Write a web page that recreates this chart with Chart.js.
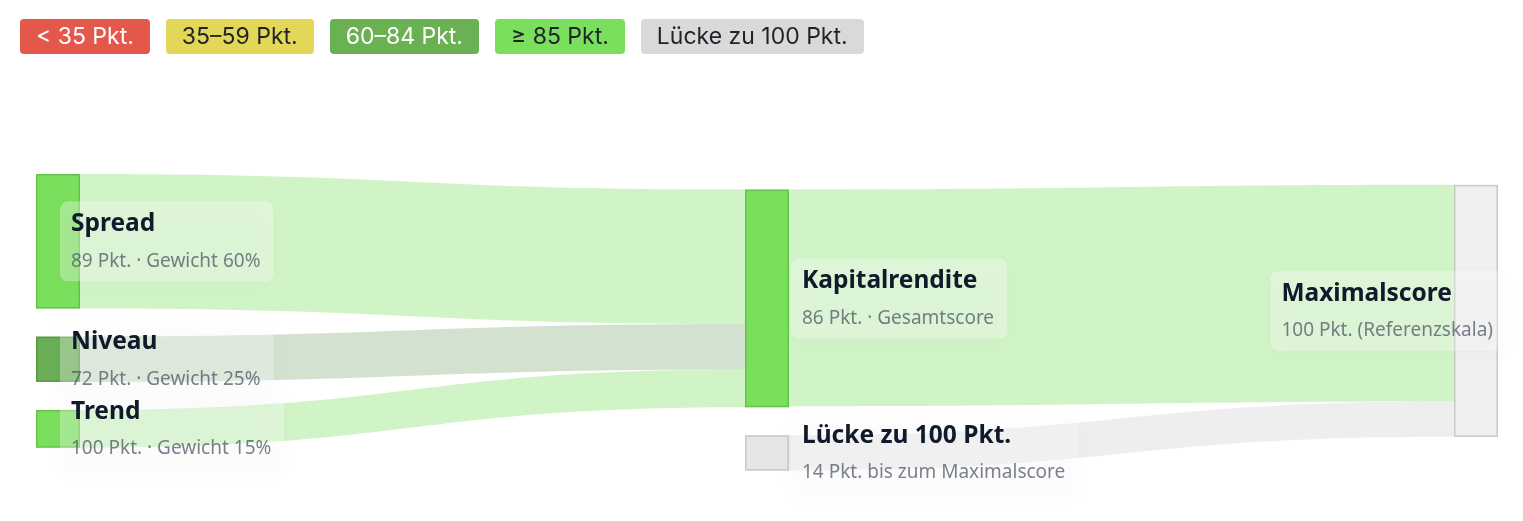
<!DOCTYPE html>
<html><head><meta charset="utf-8">
<script src="https://cdn.jsdelivr.net/npm/chart.js@4.4.1/dist/chart.umd.min.js"></script>
<style>
html,body{margin:0;padding:0;background:#fff;}
#wrap{position:relative;width:1523px;height:521px;overflow:hidden;}
#legend{position:absolute;left:20px;top:19px;display:flex;gap:16px;z-index:2}
.badge{height:35px;line-height:35px;padding:0 16px;border-radius:4px;font-family:Inter,sans-serif;font-size:23px;white-space:nowrap;}
canvas{position:absolute;left:0;top:0}
</style></head>
<body><div id="wrap"><div id="legend"></div><canvas id="c" width="1523" height="521"></canvas></div>
<script>
// ---- data ----
const legendLabels = ['< 35 Pkt.', '35–59 Pkt.', '60–84 Pkt.', '≥ 85 Pkt.', 'Lücke zu 100 Pkt.'];
const nodeNames = ['Spread', 'Niveau', 'Trend', 'Kapitalrendite', 'Lücke zu 100 Pkt.', 'Maximalscore'];
const nodeSubtitles = ['89 Pkt. · Gewicht 60%', '72 Pkt. · Gewicht 25%', '100 Pkt. · Gewicht 15%', '86 Pkt. · Gesamtscore', '14 Pkt. bis zum Maximalscore', '100 Pkt. (Referenzskala)'];
const nodeColumns = [0, 0, 0, 1, 1, 2];
const linkFrom = ['Spread', 'Niveau', 'Trend', 'Kapitalrendite', 'Lücke zu 100 Pkt.'];
const linkTo = ['Kapitalrendite', 'Kapitalrendite', 'Kapitalrendite', 'Maximalscore', 'Maximalscore'];
const linkValues = [53.4, 18, 15, 86, 14];

// ---- styles ----
const legendColors = ['#e4574b', '#e2d756', '#6ab154', '#7bdf5e', '#d9d9d9'];
const legendTextColors = ['#ffffff', '#1f2328', '#ffffff', '#1f2328', '#1f2328'];
const nodeFill = ['#7bdf5e', '#6aaf55', '#7bdf5e', '#7bdf5e', '#e6e6e6', '#f0f0f0'];
const nodeStroke = ['rgba(60,140,40,0.35)', 'rgba(40,100,30,0.3)', 'rgba(60,140,40,0.35)', 'rgba(60,140,40,0.35)', '#c9c9c9', '#c9c9c9'];
const linkFill = ['rgba(123,223,94,0.35)', 'rgba(110,160,95,0.3)', 'rgba(123,223,94,0.35)', 'rgba(123,223,94,0.35)', 'rgba(215,215,215,0.42)'];

const legend = document.getElementById('legend');
legendLabels.forEach((t, i) => {
  const d = document.createElement('div');
  d.className = 'badge';
  d.textContent = t;
  d.style.background = legendColors[i];
  d.style.color = legendTextColors[i];
  legend.appendChild(d);
});

const NODE_W = 44, PAD_PX = 28;

const sankeyPlugin = {
  id: 'sankey',
  afterDatasetsDraw(chart) {
    const ctx = chart.ctx, xs = chart.scales.x, ys = chart.scales.y;
    const ky = Math.abs(ys.getPixelForValue(1) - ys.getPixelForValue(0));
    const pad = PAD_PX / ky;
    const n = nodeNames.length;
    const inV = new Array(n).fill(0), outV = new Array(n).fill(0);
    const links = linkFrom.map((f, i) => ({s: nodeNames.indexOf(f), t: nodeNames.indexOf(linkTo[i]), v: linkValues[i], i}));
    links.forEach(l => { outV[l.s] += l.v; inV[l.t] += l.v; });
    const val = nodeNames.map((_, i) => Math.max(inV[i], outV[i]));
    const y0 = new Array(n).fill(0);
    const maxCol = Math.max(...nodeColumns);
    let acc = 0;
    nodeNames.forEach((_, i) => { if (nodeColumns[i] === 0) { y0[i] = acc; acc += val[i] + pad; } });
    const col0Center = (acc - pad) / 2;
    for (let c = 1; c <= maxCol; c++) {
      const ids = nodeNames.map((_, i) => i).filter(i => nodeColumns[i] === c);
      if (c === maxCol) {
        let tot = ids.reduce((a, i) => a + val[i], 0) + pad * (ids.length - 1);
        let y = col0Center - tot / 2;
        ids.forEach(i => { y0[i] = y; y += val[i] + pad; });
        continue;
      }
      let cursor = null;
      ids.forEach(i => {
        const inc = links.filter(l => l.t === i);
        if (inc.length) {
          let w = 0, s = 0;
          inc.forEach(l => { w += l.v; s += l.v * (y0[l.s] + val[l.s] / 2); });
          y0[i] = s / w - val[i] / 2;
        } else {
          y0[i] = cursor;
        }
        cursor = y0[i] + val[i] + pad;
      });
    }
    const px = i => xs.getPixelForValue(nodeColumns[i]);
    const py = u => ys.getPixelForValue(u);

    const outOff = new Array(n).fill(0), inOff = new Array(n).fill(0);
    links.forEach(l => {
      const sy0 = y0[l.s] + outOff[l.s]; outOff[l.s] += l.v;
      const ty0 = y0[l.t] + inOff[l.t]; inOff[l.t] += l.v;
      const xA = px(l.s) + NODE_W, xB = px(l.t);
      const xm = (xA + xB) / 2;
      const a0 = py(sy0), a1 = py(sy0 + l.v), b0 = py(ty0), b1 = py(ty0 + l.v);
      ctx.save();
      ctx.beginPath();
      ctx.moveTo(xA, a0);
      ctx.bezierCurveTo(xm, a0, xm, b0, xB, b0);
      ctx.lineTo(xB, b1);
      ctx.bezierCurveTo(xm, b1, xm, a1, xA, a1);
      ctx.closePath();
      ctx.fillStyle = linkFill[l.i];
      ctx.fill();
      ctx.restore();
    });
    nodeNames.forEach((_, i) => {
      const x = px(i), top = py(y0[i]), h = py(y0[i] + val[i]) - top;
      ctx.save();
      ctx.fillStyle = nodeFill[i];
      ctx.fillRect(x, top, NODE_W, h);
      ctx.strokeStyle = nodeStroke[i];
      ctx.lineWidth = 1.5;
      ctx.strokeRect(x + 0.75, top + 0.75, NODE_W - 1.5, h - 1.5);
      ctx.restore();
    });
    const tFont = 'bold 24.5px "Noto Sans", sans-serif', sFont = '19px "Noto Sans", sans-serif';
    nodeNames.forEach((name, i) => {
      const c = nodeColumns[i];
      const cy = (py(y0[i]) + py(y0[i] + val[i])) / 2;
      ctx.save();
      ctx.font = tFont; const w1 = ctx.measureText(name).width;
      ctx.font = sFont; const w2 = ctx.measureText(nodeSubtitles[i]).width;
      const w = Math.max(w1, w2);
      let tx;
      if (c === maxCol) tx = px(i) + NODE_W - 5 - w;
      else tx = px(i) + 35 + 22 * c;
      const bx = tx - 11, bw = w + 24, by = cy - 40, bh = 80;
      ctx.shadowColor = 'rgba(0,0,0,0.07)';
      ctx.shadowBlur = 18;
      ctx.shadowOffsetY = 5;
      ctx.fillStyle = 'rgba(255,255,255,0.32)';
      ctx.beginPath();
      ctx.roundRect(bx, by, bw, bh, 8);
      ctx.fill();
      ctx.shadowColor = 'transparent';
      ctx.textBaseline = 'middle';
      ctx.textAlign = 'left';
      ctx.font = tFont;
      ctx.fillStyle = '#0f1a2a';
      ctx.fillText(name, tx, cy - 17);
      ctx.font = sFont;
      ctx.fillStyle = 'rgba(70,80,95,0.72)';
      ctx.fillText(nodeSubtitles[i], tx, cy + 20);
      ctx.restore();
    });
  }
};

new Chart(document.getElementById('c'), {
  type: 'scatter',
  data: { datasets: [{ data: [], pointRadius: 0 }] },
  options: {
    responsive: false,
    animation: false,
    events: [],
    devicePixelRatio: 1,
    layout: { padding: { left: 36, right: 69, top: 174, bottom: 44.6 } },
    scales: {
      x: { type: 'linear', min: 0, max: 2, display: false },
      y: { type: 'linear', min: 0, max: 120, reverse: true, display: false }
    },
    plugins: { legend: { display: false }, tooltip: { enabled: false } }
  },
  plugins: [sankeyPlugin]
});
</script>
</body></html>
